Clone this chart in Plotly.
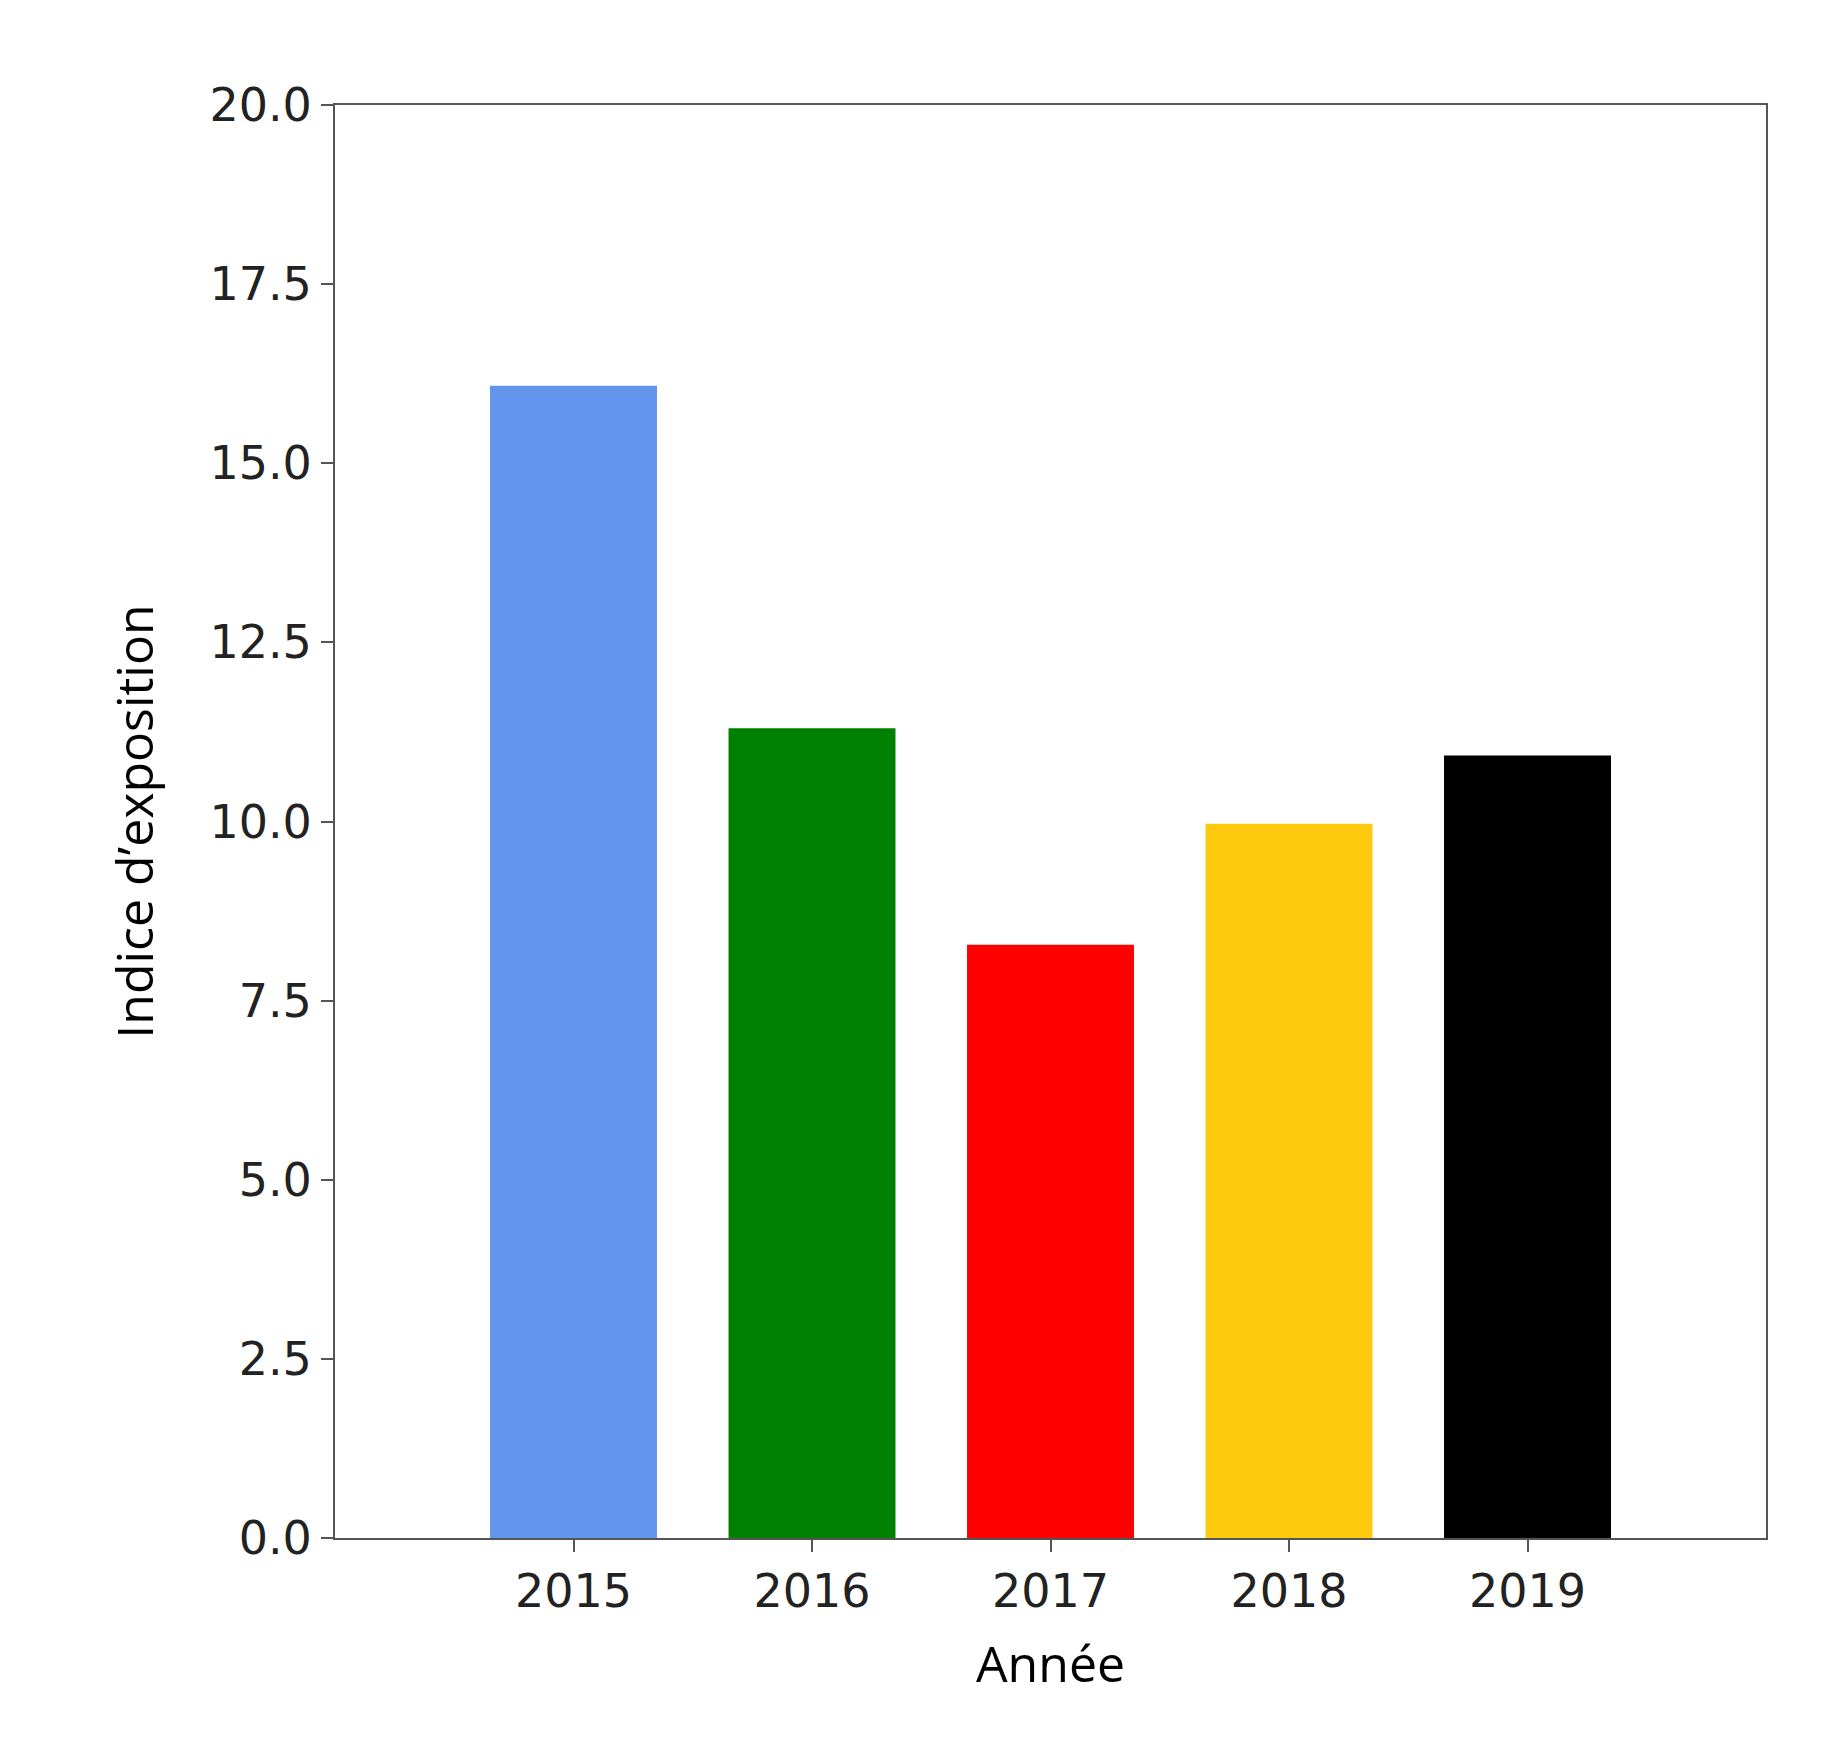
import plotly.graph_objects as go

years = [2015, 2016, 2017, 2018, 2019]
values = [16.08, 11.3, 8.28, 9.97, 10.92]
colors = ["#6495ED", "#008000", "#FF0000", "#FFC90E", "#000000"]
yticks = [0, 2.5, 5, 7.5, 10, 12.5, 15, 17.5, 20]

fig = go.Figure(go.Bar(x=years, y=values, width=0.7, marker=dict(color=colors, line_width=0)))
W, H = 1834, 1750
L, R, T, B = 327, 1758, 97, 1530
fig.update_layout(
    width=W, height=H, margin=dict(l=L, r=W - R, t=T, b=H - B),
    plot_bgcolor="white", paper_bgcolor="white", showlegend=False,
    font=dict(family="DejaVu Sans", size=46, color="#222"),
)
fig.update_xaxes(range=[2014, 2020], tickvals=years, ticks="outside", ticklen=12, tickwidth=2,
                 tickcolor="#555", showline=True, linecolor="#555", linewidth=2, mirror=True,
                 showgrid=False, zeroline=False,
                 title=dict(text="Année", font=dict(family="Open Sans", size=50, color="#000"), standoff=30))
fig.update_yaxes(range=[0, 20], tickvals=yticks, ticktext=[f"{v:.1f}" for v in yticks],
                 ticks="outside", ticklen=12, tickwidth=2, tickcolor="#555", showline=True,
                 linecolor="#555", linewidth=2, mirror=True, showgrid=False, zeroline=False,
                 title=dict(text="Indice d’exposition", font=dict(family="Open Sans", size=50, color="#000"), standoff=40))
fig.write_html("out.html")
